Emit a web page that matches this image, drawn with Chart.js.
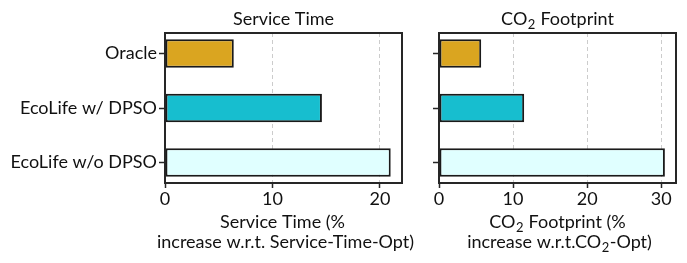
<!DOCTYPE html>
<html lang="en">
<head>
  <meta charset="UTF-8" />
  <title>Service Time / CO2 Footprint</title>
  <script src="https://cdn.jsdelivr.net/npm/chart.js"></script>
  <style>
    body { margin: 0; background: #fff; }
    .wrap { position: relative; width: 687px; height: 263px; }
    #left { position: absolute; left: 0; top: 0; }
    #right { position: absolute; left: 425px; top: 0; }
  </style>
</head>
<body>
  <div class="wrap">
    <canvas id="left" width="425" height="263"></canvas>
    <canvas id="right" width="262" height="263"></canvas>
  </div>

  <script>
    const categories = ["Oracle", "EcoLife w/ DPSO", "EcoLife w/o DPSO"];
    const barColors = ["#DAA520", "#17BECF", "#E0FFFF"];
    const serviceTime = [6.4, 14.6, 21.0];
    const co2Footprint = [5.7, 11.5, 30.5];
    const serviceTicks = [0, 10, 20];
    const co2Ticks = [0, 10, 20, 30];

    const FONT = "Lato, 'DejaVu Sans', sans-serif";
    const FS = 18;

    // draws a centred line, "₂" is drawn as a lowered smaller 2
    function drawLine(ctx, text, cx, y) {
      const parts = text.split("\u2082");
      const big = FS + "px " + FONT, small = Math.round(FS * 0.72) + "px " + FONT;
      let w = 0;
      parts.forEach((p, i) => {
        ctx.font = big; w += ctx.measureText(p).width;
        if (i < parts.length - 1) { ctx.font = small; w += ctx.measureText("2").width + 1; }
      });
      let x = cx - w / 2;
      ctx.textAlign = "left";
      ctx.textBaseline = "alphabetic";
      parts.forEach((p, i) => {
        ctx.font = big; ctx.fillText(p, x, y); x += ctx.measureText(p).width;
        if (i < parts.length - 1) {
          ctx.font = small; ctx.fillText("2", x + 0.5, y + 4); x += ctx.measureText("2").width + 1;
        }
      });
    }

    // frame around the plot, panel title and axis title
    const framePlugin = {
      id: "frame",
      afterDraw(chart, args, opts) {
        const { ctx, chartArea: a } = chart;
        const cx = (a.left + a.right) / 2;
        ctx.save();
        ctx.strokeStyle = "#262626";
        ctx.lineWidth = 2;
        ctx.strokeRect(a.left, a.top, a.right - a.left, a.bottom - a.top);
        ctx.fillStyle = "#111";
        drawLine(ctx, opts.text, cx, 24.5);
        drawLine(ctx, opts.xTitle[0], cx + opts.shift[0], 228);
        drawLine(ctx, opts.xTitle[1], cx + opts.shift[1], 248);
        ctx.restore();
      }
    };

    function makeChart(id, values, xTicks, xMax, title, xTitle, shift, showLabels, yWidth, padRight) {
      return new Chart(document.getElementById(id), {
        type: "bar",
        data: {
          datasets: [{
            data: values.map((v, i) => ({ x: v, y: i })),
            backgroundColor: barColors,
            borderColor: "#1a1a1a",
            borderWidth: 2,
            borderSkipped: false,
            barPercentage: 0.52,
            categoryPercentage: 1.0
          }]
        },
        options: {
          indexAxis: "y",
          responsive: false,
          animation: false,
          layout: { padding: { top: 33, right: padRight, left: 0, bottom: 0 } },
          plugins: {
            legend: { display: false },
            tooltip: { enabled: false },
            frame: { text: title, xTitle: xTitle, shift: shift }
          },
          scales: {
            x: {
              type: "linear",
              min: 0,
              max: xMax,
              afterBuildTicks: s => { s.ticks = xTicks.map(v => ({ value: v })); },
              afterFit: s => { s.height = 80; },
              grid: {
                color: "#cccccc",
                lineWidth: 1,
                tickLength: 5,
                tickColor: "#262626",
                tickWidth: 1.5,
                tickBorderDash: []
              },
              border: { display: false, dash: [4, 3] },
              ticks: { color: "#111", padding: 0, font: { family: FONT, size: FS } }
            },
            y: {
              type: "linear",
              reverse: true,
              offset: false,
              min: -0.375,
              max: 2.375,
              afterBuildTicks: s => { s.ticks = categories.map((c, i) => ({ value: i })); },
              afterFit: s => { s.width = yWidth; },
              grid: {
                offset: false,
                drawOnChartArea: false,
                tickLength: 6,
                tickColor: "#262626",
                tickWidth: 1.5
              },
              border: { display: false },
              ticks: {
                color: "#111",
                padding: 2,
                font: { family: FONT, size: FS },
                callback: v => showLabels ? categories[v] : ""
              }
            }
          }
        },
        plugins: [framePlugin]
      });
    }

    makeChart("left", serviceTime, serviceTicks, 22.05, "Service Time",
      ["Service Time (%", "increase w.r.t. Service-Time-Opt)"], [-1, 2], true, 165, 23);
    makeChart("right", co2Footprint, co2Ticks, 32.0, "CO\u2082 Footprint",
      ["CO\u2082 Footprint (%", "increase w.r.t.CO\u2082-Opt)"], [0, 2], false, 14, 11);
  </script>
</body>
</html>
